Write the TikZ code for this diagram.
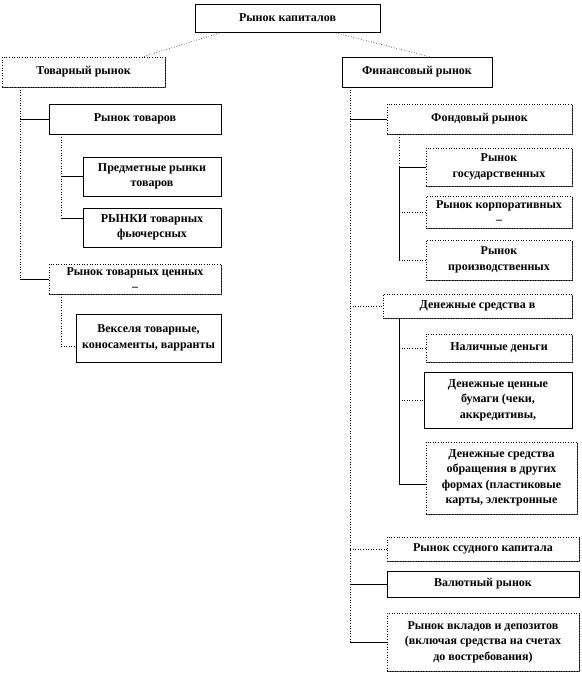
\documentclass[tikz,border=0pt]{standalone}
\usepackage{fontspec}
\setmainfont{Liberation Serif}
\usetikzlibrary{shadows,calc}
\def\boxedge{0.6pt}
\tikzset{
  blk/.style={draw, line width=\boxedge, fill=white, align=center, inner sep=1pt,
    font=\bfseries\fontsize{12}{15.5}\selectfont,
    drop shadow={shadow xshift=1.3pt, shadow yshift=-1.3pt, fill=black!80, opacity=0.9}},
  blkdot/.style={blk, dotted},
  conn/.style={line width=0.6pt},
  conndot/.style={conn, dotted},
}
\begin{document}
\begin{tikzpicture}[x=1pt, y=-1pt]
  \useasboundingbox (0,0) rectangle (581,674);

  % top and the two branches
  \node[blk, minimum width=185pt, minimum height=28pt] (cap) at (287.5,18) {Рынок капиталов};
  \node[blkdot, minimum width=163pt, minimum height=30pt] (tov) at (83.5,72) {Товарный рынок};
  \node[blk, minimum width=150pt, minimum height=30pt] (fin) at (417,72) {Финансовый рынок};
  \draw[conndot] ($(cap.south west)+(27,0)$) -- ($(tov.north east)+(-22,0)$);
  \draw[conndot] ($(cap.south east)+(-47,0)$) -- ($(fin.north west)+(88,0)$);

  % left side
  \node[blk, minimum width=172pt, minimum height=30pt] (rtov) at (135,119) {Рынок товаров};
  \node[blk, minimum width=138pt, minimum height=39pt] (pred) at (152,176.5) {Предметные рынки\\товаров};
  \node[blk, minimum width=138pt, minimum height=39pt] (fut) at (152,227.5) {РЫНКИ товарных\\фьючерсных};
  \node[blkdot, minimum width=172pt, minimum height=30pt] (rtcb) at (135,279) {Рынок товарных ценных\\[-1pt]–};
  \node[blk, minimum width=145pt, minimum height=48pt] (veks) at (148.5,338) {Векселя товарные,\\коносаменты, варранты};

  \coordinate (lt) at (20,0);
  \coordinate (ls) at (61,0);
  \coordinate (futin) at ($(fut.north west)!0.28!(fut.south west)$);
  \coordinate (veksin) at ($(veks.north west)!0.67!(veks.south west)$);
  \draw[conndot] (tov.south -| lt) -- (lt |- rtcb.west);
  \draw[conn] (lt |- rtov.west) -- (rtov.west);
  \draw[conn] (lt |- rtcb.west) -- (rtcb.west);
  \draw[conndot] (rtov.south -| ls) -- (ls |- futin);
  \draw[conn] (ls |- pred.west) -- (pred.west);
  \draw[conn] (ls |- futin) -- (futin);
  \draw[conndot] (rtcb.south -| ls) -- (ls |- veksin) -- (veksin);

  % right side
  \node[blkdot, minimum width=185pt, minimum height=30pt] (fond) at (479.5,119) {Фондовый рынок};
  \node[blkdot, minimum width=146pt, minimum height=38pt] (gos) at (499,167) {Рынок\\государственных};
  \node[blkdot, minimum width=146pt, minimum height=32pt] (korp) at (499,212) {Рынок корпоративных\\[-1pt]–};
  \node[blkdot, minimum width=146pt, minimum height=40pt] (proizv) at (499,260) {Рынок\\производственных};
  \node[blkdot, minimum width=189pt, minimum height=24pt] (den) at (477.5,306) {Денежные средства в};
  \node[blkdot, minimum width=146pt, minimum height=28pt] (nal) at (499,348) {Наличные деньги};
  \node[blk, minimum width=148pt, minimum height=56pt] (dcb) at (498,400) {Денежные ценные\\бумаги (чеки,\\аккредитивы,};
  \node[blkdot, minimum width=151pt, minimum height=72pt] (dso) at (501.5,478) {Денежные средства\\обращения в других\\формах (пластиковые\\карты, электронные};
  \node[blkdot, minimum width=192pt, minimum height=24pt] (ssud) at (483,549) {Рынок ссудного капитала};
  \node[blk, minimum width=192pt, minimum height=26pt] (val) at (483,584) {Валютный рынок};
  \node[blkdot, minimum width=192pt, minimum height=58pt] (vkl) at (483,642) {Рынок вкладов и депозитов\\(включая средства на счетах\\до востребования)};

  \coordinate (rt) at (350,0);
  \coordinate (rs) at (399,0);
  \coordinate (dsoin) at ($(dso.north west)!0.58!(dso.south west)$);
  \draw[conndot] (fin.south -| rt) -- (rt |- vkl.west);
  \draw[conn] (rt |- fond.west) -- (fond.west);
  \draw[conndot] (rt |- den.west) -- (den.west);
  \draw[conndot] (rt |- ssud.west) -- (ssud.west);
  \draw[conn] (rt |- val.west) -- (val.west);
  \draw[conn] (rt |- vkl.west) -- (vkl.west);
  \draw[conndot] (fond.south -| rs) -- (rs |- gos.west);
  \draw[conn] (rs |- gos.west) -- (rs |- proizv.west);
  \draw[conn] (rs |- gos.west) -- (gos.west);
  \draw[conndot] (rs |- korp.west) -- (korp.west);
  \draw[conndot] (rs |- proizv.west) -- (proizv.west);
  \draw[conn] (den.south -| rs) -- (rs |- dsoin);
  \draw[conndot] (rs |- nal.west) -- (nal.west);
  \draw[conndot] (rs |- dcb.west) -- (dcb.west);
  \draw[conn] (rs |- dsoin) -- (dsoin);
\end{tikzpicture}
\end{document}
